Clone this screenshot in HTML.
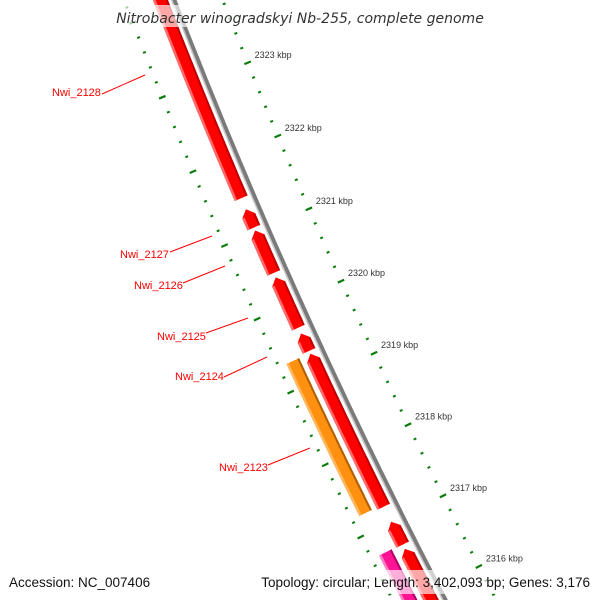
<!DOCTYPE html>
<html><head><meta charset="utf-8"><style>
html,body{margin:0;padding:0;background:#fff;overflow:hidden;width:600px;height:600px;}
svg{display:block;font-family:"Liberation Sans","DejaVu Sans",sans-serif;overflow:hidden;}
</style></head><body>
<svg id="map" width="600" height="600" viewBox="0 0 600 600">
<defs><clipPath id="frame"><rect x="0" y="0" width="600" height="600"/></clipPath></defs>
<g clip-path="url(#frame)">
<g id="ticks"></g>
<g id="backbone"></g>
<g id="genes"></g>
<g id="labels"></g>
</g>
<g>
<rect x="115" y="5" width="370" height="22" fill="#fff" fill-opacity="0.65"/>
<text x="300" y="23" text-anchor="middle" font-size="14" font-style="italic" fill="#333" font-family="'DejaVu Sans',sans-serif">Nitrobacter winogradskyi Nb-255, complete genome</text>
</g>
<g>
<rect x="4" y="570" width="592" height="24" fill="#fff" fill-opacity="0.65"/>
<text x="9" y="587" font-size="13.5" fill="#111">Accession: NC_007406</text>
<text x="590" y="587" text-anchor="end" font-size="13.5" fill="#111">Topology: circular; Length: 3,402,093 bp; Genes: 3,176</text>
</g>
</svg>
<script>
// data
const tickMajors = [2316, 2317, 2318, 2319, 2320, 2321, 2322, 2323, 2324];
const tickLabels = ["2316 kbp","2317 kbp","2318 kbp","2319 kbp","2320 kbp","2321 kbp","2322 kbp","2323 kbp",""];
const geneNames = ["Nwi_2128","Nwi_2127","Nwi_2126","Nwi_2125","Nwi_2124","gene-6","gene-7","gene-8","Nwi_2123","gene-pink"];
const geneStarts = [2321.46, 2321.06, 2320.44, 2319.69, 2319.37, 2317.21, 2316.68, 2315.8, 2317.24, 2315.8];
const geneEnds   = [2324.5, 2321.31, 2321.02, 2320.38, 2319.61, 2319.33, 2317.0, 2316.62, 2319.34, 2316.69];
const geneTrack  = [0,0,0,0,0,0,0,0,1,1];
const geneArrow  = [1,1,1,1,1,1,1,1,0,0];
const geneColor  = ["red","red","red","red","red","red","red","red","orange","pink"];
const labelText = ["Nwi_2128","Nwi_2127","Nwi_2126","Nwi_2125","Nwi_2124","Nwi_2123"];
const labelPos = [[52,96],[120,258],[134,289],[157,340],[175,380],[219,471]];
const labelLine = [[102,94,145,75],[170,252,212,236],[183,283,225,266],[206,333,248,318],[224,377,267,357],[268,465,310,448]];

const NS="http://www.w3.org/2000/svg";
const CX=5769, CY=-2168, R=6000;
function ang(k){return (158.0-0.762*(2323-k))*Math.PI/180;}
function P(k,r){const a=ang(k);return [CX+r*Math.cos(a),CY+r*Math.sin(a)];}
function mk(tag,attrs,parent){const e=document.createElementNS(NS,tag);for(const k in attrs)e.setAttribute(k,attrs[k]);parent.appendChild(e);return e;}
function arcPts(k1,k2,r){const pts=[];const n=40;for(let i=0;i<=n;i++){pts.push(P(k1+(k2-k1)*i/n,r));}return pts;}
function ptsStr(p){return p.map(q=>q[0].toFixed(1)+","+q[1].toFixed(1)).join(" ");}

// backbone
const bb=document.getElementById('backbone');
const bbl=mk('polyline',{points:ptsStr(arcPts(2315.6,2324.6,R)),fill:'none',stroke:'#7a7a7a','stroke-width':4},bb);


const bbh=mk('polyline',{points:ptsStr(arcPts(2315.6,2324.6,R+2.5)),fill:'none',stroke:'#c8c8c8','stroke-width':1.5},bb);



// ticks
const tg=document.getElementById('ticks');
for(let k=2315.6;k<=2324.601;k+=0.2){
  const kk=Math.round(k*10)/10;
  const major=Math.abs(kk-Math.round(kk))<0.01;
  const len=major?3.5:1.5;
  [R-45,R+47].forEach(r=>{
    const a=P(kk,r-len),b=P(kk,r+len);
    if(a[1]>598||b[1]>598||a[1]<0)return;
    const t=mk('line',{x1:a[0],y1:a[1],x2:b[0],y2:b[1],stroke:'#0a7d0a','stroke-width':major?2.2:2},tg);
    
    
  });
}
tickMajors.forEach((k,i)=>{
  if(!tickLabels[i])return;
  const p=P(k,R-45);
  const t=mk('text',{x:p[0]+7,y:p[1]-5,'font-size':9,fill:'#333'},tg);
  t.textContent=tickLabels[i];
  
  
});

// genes
const colors={red:['#ff0000','#ff6a6a','#c00000'],orange:['#ff9010','#ffb860','#b06000'],pink:['#ff1493','#ff80c0','#b0006a']};
const gg=document.getElementById('genes');
geneStarts.forEach((s,i)=>{
  const e=geneEnds[i];
  const r0=geneTrack[i]===0?R+6:R+25, r1=r0+14;
  const head=geneArrow[i]?Math.min(0.09,(e-s)*0.5):0;
  const c=colors[geneColor[i]];
  const inner=arcPts(s,e-head,r0), outer=arcPts(e-head,s,r1);
  const tip=P(e,(r0+r1)/2);
  const poly=inner.concat(head?[tip]:[]).concat(outer);
  const g=mk('g',{},gg);
  
  
  mk('polygon',{points:ptsStr(poly),fill:c[0]},g);
  const lb=arcPts(s,e-head,r1-2.5).concat(arcPts(e-head,s,r1));
  mk('polygon',{points:ptsStr(lb),fill:c[1]},g);
  const db=arcPts(s,e-head,r0).concat(arcPts(e-head,s,r0+2));
  mk('polygon',{points:ptsStr(db),fill:c[2]},g);
});

// labels
const lg=document.getElementById('labels');
labelText.forEach((t,i)=>{
  const l=labelLine[i];
  const ln=mk('line',{x1:l[0],y1:l[1],x2:l[2],y2:l[3],stroke:'#ff0000','stroke-width':1},lg);
  
  
  const tx=mk('text',{x:labelPos[i][0],y:labelPos[i][1],'font-size':11,fill:'#ff0000'},lg);
  tx.textContent=t;
  
  
});
</script>
</body></html>
